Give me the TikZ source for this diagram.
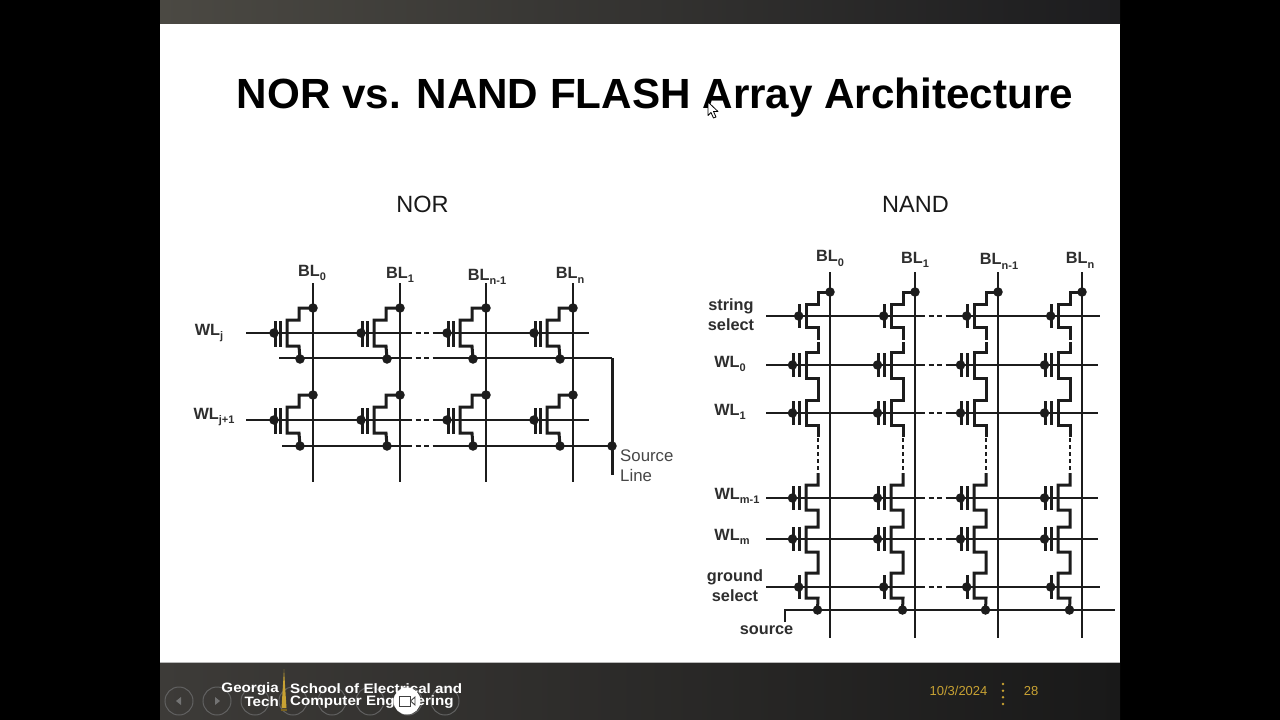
\documentclass[tikz,border=0pt]{standalone}
\usepackage{fontspec}
\setmainfont{Liberation Sans}
\usetikzlibrary{calc}
\definecolor{ink}{HTML}{1C1C1C}
\definecolor{lab}{HTML}{2E2E2E}
\definecolor{gold}{HTML}{C8A233}
\definecolor{barl}{HTML}{3D3B38}
\definecolor{barr}{HTML}{191919}
\definecolor{topl}{HTML}{4B4943}
\definecolor{topr}{HTML}{1C1C1E}
\newcommand{\fs}[1]{\fontsize{#1}{#1}\selectfont}
\newcommand{\sbs}[1]{\raisebox{-0.28em}{\fs{11}#1}}
\tikzset{
  wire/.style={line width=2pt,draw=ink,line join=miter},
  trace/.style={line width=3pt,draw=ink,line join=miter},
  heavy/.style={line width=3pt,draw=ink},
  gap/.style={line width=2pt,draw=ink,dash pattern=on 5pt off 3.5pt},
  pdot/.style={circle,fill=ink,inner sep=0pt,minimum size=9.5pt},
  gdot/.style={circle,fill=ink,inner sep=0pt,minimum size=9.5pt},
  plate/.style={line width=3pt,draw=ink},
  sig/.style={font=\fs{16.3}\bfseries,text=lab,inner sep=0pt},
  nav/.style={circle,draw=white!38!black,line width=1pt,minimum size=28pt,inner sep=0pt},
  logo/.style={font=\fs{13.6}\bfseries,text=white,inner sep=0pt,xscale=1.115,transform shape},
  foot/.style={font=\fs{13},text=gold,inner sep=0pt}
}
% NOR cell: #1 BL x, #2 WL y, #3 name
\newcommand{\norcell}[3]{%
  \node[pdot] (#3d) at (#1,#2-25) {};
  \node[pdot] (#3s) at (#1-13,#2+26) {};
  \node[gdot] (#3g) at (#1-39,#2) {};
  \draw[trace] (#3d.center) -- ++(-14,0) -- ++(0,12) -- ++(-12,0) -- ++(0,26) -- ++(12,0) -- (#3s.center);
  \draw[plate] (#1-33,#2-12) -- (#1-33,#2+14);
  \draw[plate] (#1-38,#2-12) -- (#1-38,#2+14);
}
% NAND gate sets: #1 x offset from column, #2 WL y, #3 name
\newcommand{\nandmem}[3]{%
  \node[gdot] (#3) at (#1+792.5,#2) {};
  \draw[plate] (#1+793,#2-12) -- (#1+793,#2+12);
  \draw[plate] (#1+799,#2-12) -- (#1+799,#2+12);
}
\newcommand{\nandsel}[3]{%
  \node[gdot] (#3) at (#1+798.7,#2) {};
  \draw[plate] (#1+799,#2-12) -- (#1+799,#2+12);
}
\begin{document}
\begin{tikzpicture}[x=1pt,y=-1pt]
\useasboundingbox (0,0) rectangle (1280,720);
\fill[black] (0,0) rectangle (1280,720);
% slide frame
\shade[left color=topl,right color=topr] (160,0) rectangle (1120,24);
\shade[left color=barl,right color=barr] (160,662) rectangle (1120,720);
\fill[white] (160,24) rectangle (1120,662);
\fill[black!28] (160,661.5) rectangle (1120,663);

% headings
\node[font=\fs{42.2}\bfseries,text=black,inner sep=0pt] (title) at (655,98) {NOR vs. NAND FLASH Array Architecture};
\node[font=\fs{23.5},text=black!90,inner sep=0pt] (norhead) at (422.5,204) {NOR};
\node[font=\fs{23.5},text=black!90,inner sep=0pt] (nandhead) at (915.5,204) {NAND};

% ---------- NOR ----------
\foreach \bx/\bn in {313/a,400/b,486/c,573/e}{
  \coordinate (nt\bn) at (\bx,283);
  \coordinate (nb\bn) at (\bx,482);
  \draw[wire] (nt\bn) -- (nb\bn);
}
\foreach \yy/\rn in {333/p,420/q}{
  \foreach \bx/\bn in {313/a,400/b,486/c,573/e}{\norcell{\bx}{\yy}{\rn\bn}}
}
% word lines
\foreach \yy/\xs/\rn in {333/246/p,420/246/q}{
  \coordinate (wl\rn a) at (\xs,\yy);
  \coordinate (wl\rn b) at (407,\yy);
  \coordinate (wl\rn c) at (437,\yy);
  \coordinate (wl\rn d) at (589,\yy);
  \draw[wire] (wl\rn a) -- (wl\rn b);
  \draw[gap] (wl\rn b) -- (wl\rn c);
  \draw[wire] (wl\rn c) -- (wl\rn d);
}
% source lines
\coordinate (sa) at (279,358); \coordinate (sb) at (407,358);
\coordinate (sc) at (437,358); \coordinate (sd) at (612,358);
\coordinate (ta) at (282,446);   \coordinate (tb) at (407,446);
\coordinate (tc) at (437,446);
\node[pdot] (srcdot) at (612,446) {};
\coordinate (send) at (612,475);
\draw[wire] (sa) -- (sb); \draw[gap] (sb) -- (sc); \draw[wire] (sc) -- (sd);
\draw[wire] (ta) -- (tb); \draw[gap] (tb) -- (tc); \draw[wire] (tc) -- (srcdot.center);
\draw[heavy] (sd) -- (send);
% NOR labels
\node[sig] (lb0) at (312,273) {BL\sbs{0}};
\node[sig] (lb1) at (400,275) {BL\sbs{1}};
\node[sig] (lb2) at (487,277) {BL\sbs{n-1}};
\node[sig] (lb3) at (570,275.5) {BL\sbs{n}};
\node[sig] (wj) at (209,333) {WL\sbs{j}};
\node[sig] (wj1) at (214,417) {WL\sbs{j+1}};
\node[font=\fs{16.8},text=black!72,inner sep=0pt,anchor=west] (sl1) at (620,456) {Source};
\node[font=\fs{16.8},text=black!72,inner sep=0pt,anchor=west] (sl2) at (620,475.5) {Line};

% ---------- NAND ----------
\foreach \off/\bx/\n in {0/830/a,85/915/b,168/998/c,252/1082/e}{
  \coordinate (bt\n) at (\bx,272);
  \coordinate (bb\n) at (\bx,638);
  \draw[wire] (bt\n) -- (bb\n);
  \node[pdot] (dr\n) at (\bx,292) {};
  \node[pdot] (so\n) at (\off+817.5,610) {};
  \draw[trace] (dr\n.center) -- (\off+818,292) -- (\off+818,304) -- (\off+806,304) -- (\off+806,327) -- (\off+818,327) -- (\off+818,340);
  \draw[trace] (\off+818,342) -- (\off+818,352) -- (\off+806,352) -- (\off+806,378) -- (\off+818,378) -- (\off+818,400) -- (\off+806,400) -- (\off+806,425) -- (\off+818,425) -- (\off+818,437);
  \draw[line width=2pt,draw=ink,dash pattern=on 4pt off 3pt] (\off+818,438) -- (\off+818,473);
  \draw[trace] (\off+818,473) -- (\off+818,485) -- (\off+806,485) -- (\off+806,510) -- (\off+818,510) -- (\off+818,527) -- (\off+806,527) -- (\off+806,552) -- (\off+818,552) -- (\off+818,573) -- (\off+806,573) -- (\off+806,598) -- (\off+818,598) -- (so\n.center);
  \nandsel{\off}{316}{gs\n}
  \nandmem{\off}{365}{g0\n}
  \nandmem{\off}{413}{g1\n}
  \nandmem{\off}{498}{g2\n}
  \nandmem{\off}{539}{g3\n}
  \nandsel{\off}{587}{g4\n}
}
\foreach \yy/\r/\e in {316/a/1100,365/b/1098,413/c/1098,498/d/1098,539/e/1098,587/f/1100}{
  \coordinate (ws\r) at (766,\yy);
  \coordinate (wt\r) at (920,\yy);
  \coordinate (wu\r) at (950,\yy);
  \coordinate (wv\r) at (\e,\yy);
  \draw[wire] (ws\r) -- (wt\r);
  \draw[gap] (wt\r) -- (wu\r);
  \draw[wire] (wu\r) -- (wv\r);
}
\coordinate (srca) at (785,622);
\coordinate (srcb) at (785,610);
\coordinate (srcc) at (1115,610);
\draw[wire] (srca) -- (srcb) -- (srcc);
% NAND labels
\node[sig] (nb0) at (830,258.5) {BL\sbs{0}};
\node[sig] (nb1) at (915,260) {BL\sbs{1}};
\node[sig] (nb2) at (999,261.5) {BL\sbs{n-1}};
\node[sig] (nb3) at (1080,260.5) {BL\sbs{n}};
\node[sig] (str1) at (731,306.5) {string};
\node[sig] (str2) at (731,325) {select};
\node[sig] (w0) at (730,364) {WL\sbs{0}};
\node[sig] (w1) at (730,412) {WL\sbs{1}};
\node[sig] (w2) at (737,496) {WL\sbs{m-1}};
\node[sig] (w3) at (732,537) {WL\sbs{m}};
\node[sig] (gr1) at (735,577) {ground};
\node[sig] (gr2) at (735,595.5) {select};
\node[sig] (srcl) at (766.5,630) {source};

% ---------- cursor ----------
\draw[fill=white,draw=black,line width=.8pt,line join=round]
 (708,102) -- (708,115.5) -- (711,112.5) -- (713.5,118) -- (716,117) -- (713.5,111.5) -- (718,111.5) -- cycle;

% ---------- footer ----------
\foreach \cx/\n in {179/1,217/2,255/3,293/4,332/5,370/6,408/7,445/8}{
  \node[nav] (nv\n) at (\cx,701) {};
}
\fill[white!45!black] (176,701) -- (181,697) -- (181,705) -- cycle;
\fill[white!45!black] (220,701) -- (215,697) -- (215,705) -- cycle;
\fill[gold] (284,669) -- (286.5,708) -- (281.5,708) -- cycle;
\fill[gold!60!black] (281,709) rectangle (287,711);
\node[logo,anchor=east] (lg1) at (279,689) {Georgia};
\node[logo,anchor=east] (lg2) at (279,702) {Tech};
\node[logo,anchor=west] (lg3) at (290,689) {School of Electrical and};
\node[logo,anchor=west] (lg4) at (290,702) {Computer Engineering};
\node[circle,fill=white,inner sep=0pt,minimum size=27pt] (cam) at (407,701) {};
\draw[black!75,line width=.9pt,fill=white] (399,696) rectangle (410.5,706);
\draw[black!75,line width=.9pt,fill=white] (410.5,701) -- (415,697) -- (415,705) -- cycle;
\node[foot] (date) at (958.5,691) {10/3/2024};
\node[foot] (page) at (1031,691) {28};
\foreach \yy/\n in {684/a,690.7/b,697.3/c,704/e}{
  \node[circle,fill=gold,inner sep=0pt,minimum size=2.8pt] (pd\n) at (1003,\yy) {};
}
\end{tikzpicture}
\end{document}
